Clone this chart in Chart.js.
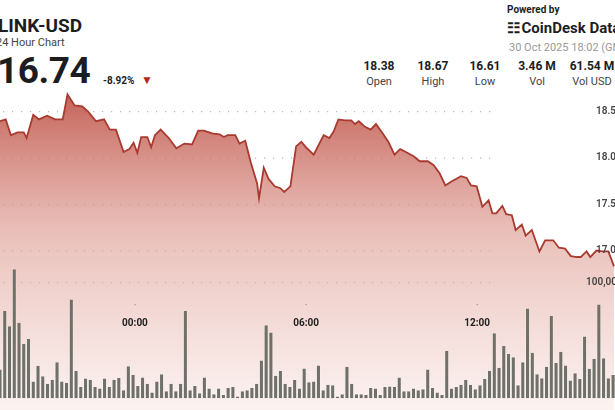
<!DOCTYPE html>
<html>
<head>
<meta charset="utf-8">
<script src="https://cdn.jsdelivr.net/npm/chart.js@4/dist/chart.umd.min.js"></script>
<style>
  body { margin: 0; width: 615px; height: 410px; overflow: hidden; background: #fff; font-family: Roboto, "Noto Sans", sans-serif; position: relative; color: #1d1d1f; }
  .abs { position: absolute; white-space: nowrap; }
  #wrap { position: absolute; left: 0; top: 90px; width: 615px; height: 320px; }
  .st { position: absolute; top: 59px; text-align: center; width: 50px; }
  .st b { display: block; font-size: 12px; font-weight: 700; }
  .st span { display: block; font-size: 11px; color: #444; margin-top: 2px; }
</style>
</head>
<body>
<div class="abs" style="left:-2px;top:14px;font-size:19px;font-weight:700;">LINK-USD</div>
<div class="abs" style="left:-4px;top:36px;font-size:11px;color:#444;">24 Hour Chart</div>
<div class="abs" style="left:-3px;top:49px;font-size:37px;font-weight:700;letter-spacing:-0.5px;">16.74</div>
<div class="abs" style="left:103px;top:73px;font-size:10px;font-weight:700;">-8.92% <span style="color:#b02a1e;font-size:12px;margin-left:4px;">&#9660;</span></div>
<div class="abs" style="left:507px;top:4px;font-size:10px;font-weight:700;">Powered by</div>
<div class="abs" style="left:507px;top:19px;font-size:15px;font-weight:700;">&#9783;&#8202;CoinDesk Data</div>
<div class="abs" style="left:509px;top:41px;font-size:11px;color:#999;">30 Oct 2025 18:02 (GMT)</div>
<div class="st" style="left:354px"><b>18.38</b><span>Open</span></div>
<div class="st" style="left:408px"><b>18.67</b><span>High</span></div>
<div class="st" style="left:460px"><b>16.61</b><span>Low</span></div>
<div class="st" style="left:512px"><b>3.46 M</b><span>Vol</span></div>
<div class="st" style="left:567px"><b>61.54 M</b><span>Vol USD</span></div>
<div id="wrap"><canvas id="c"></canvas></div>
<script>
// minutes relative to 00:00 (GMT) and close price
const priceTimes = [-284,-272,-261,-247,-234,-228,-214,-202,-185,-168,-152,-142,-127,-111,-98,-82,-65,-53,-40,-24,-12,-3,5,13,26,34,42,54,71,87,104,120,133,145,162,178,187,195,211,220,232,244,257,261,271,281,294,306,314,327,339,350,360,376,397,409,418,428,442,455,463,471,484,496,507,521,533,546,558,570,587,599,616,628,641,653,665,686,698,707,719,731,744,752,760,773,781,793,801,814,822,835,851,863,880,892,905,917,930,938,950,958,971,983,996,1008];
const prices = [18.39,18.41,18.24,18.27,18.27,18.21,18.46,18.41,18.45,18.41,18.41,18.68,18.56,18.55,18.49,18.39,18.41,18.30,18.30,18.06,18.09,18.16,18.05,18.22,18.22,18.11,18.24,18.30,18.21,18.10,18.15,18.14,18.29,18.29,18.26,18.25,18.22,18.24,18.24,18.15,18.18,17.94,17.72,17.56,17.89,17.77,17.69,17.67,17.63,17.69,18.12,18.17,18.11,18.03,18.24,18.21,18.28,18.41,18.40,18.40,18.36,18.39,18.33,18.30,18.36,18.26,18.17,18.03,18.09,18.06,18.01,17.96,17.96,17.92,17.83,17.70,17.74,17.80,17.78,17.70,17.69,17.47,17.54,17.40,17.40,17.48,17.39,17.38,17.22,17.28,17.16,17.22,16.99,17.11,17.11,17.03,17.02,16.94,16.93,16.93,16.99,16.93,17.00,16.99,16.99,16.83];
// 10-minute volume bars (thousands), first bar at -284
const volStart = -284, volStep = 10;
const volumes = [24.9,75,62,111,65,47,51,14.5,28,19,12.5,16,31,14.5,13.5,85,23.5,9.8,17,16,9.8,8.4,17,9.8,16,17.5,7,27.6,20,10.6,18,12.5,5.1,14.5,20.8,6.2,12.5,6.2,12.5,75,7,10.6,4.3,18,8.4,3.5,8.4,2.9,9,9.8,1.5,6.2,7,9,12.5,32.6,62.9,56.5,19.4,23.5,12.5,9.8,15.8,8.4,25.7,13.9,14.5,28.2,7,11.7,11.2,1.5,3.5,27.1,12.5,3.5,3.5,2.9,9,8.4,2.9,9.8,10.3,9.8,18,6.2,6.2,8.4,7,7.8,24.9,9,5.1,2.9,40.9,8.4,9.8,11.7,16,11.7,7.8,11.2,16.7,23.5,56,26.3,45,38.1,35.3,11.2,31,77.2,39.2,20.8,17.2,27.1,70.8,30.4,40,28.2,15.3,21.6,16.7,53.2,25.5,34,80.7,34.5,17.2,20,11.2,8.4,40.9];
const priceTicks = [18.5, 18.0, 17.5, 17.0];
const volTicks = [100];
const timeTicks = [0, 360, 720];
const timeLabels = ['00:00', '06:00', '12:00'];

const pricePts = priceTimes.map((t, i) => ({ x: t, y: prices[i] }));
const volPts = volumes.map((v, i) => ({ x: volStart + i * volStep, y: v }));

const overlay = {
  id: 'overlay',
  beforeDatasetsDraw(chart) {
    const { ctx, scales } = chart;
    ctx.save();
    ctx.fillStyle = '#b8b8b8';
    const dots = (y) => { for (let x = 3; x < 496; x += 9) ctx.fillRect(x, y, 1.2, 1.2); };
    priceTicks.forEach((v) => dots(scales.y.getPixelForValue(v)));
    volTicks.forEach((v) => dots(scales.v.getPixelForValue(v)));
    ctx.restore();
  },
  afterDatasetsDraw(chart) {
    const { ctx, scales } = chart;
    ctx.save();
    ctx.font = '600 10px Roboto, sans-serif';
    ctx.fillStyle = '#444';
    ctx.textBaseline = 'middle';
    priceTicks.forEach((v) => ctx.fillText(v.toFixed(1), 596, scales.y.getPixelForValue(v)));
    volTicks.forEach((v) => ctx.fillText('100,000', 586, scales.v.getPixelForValue(v)));
    ctx.font = '700 10px Roboto, sans-serif';
    ctx.textAlign = 'center';
    timeTicks.forEach((t, i) => {
      const x = scales.x.getPixelForValue(t);
      ctx.fillStyle = '#999';
      ctx.fillRect(x - 0.5, 214, 1.2, 1.2);
      ctx.fillStyle = '#222';
      ctx.fillText(timeLabels[i], x, 233);
    });
    ctx.restore();
  }
};

new Chart(document.getElementById('c'), {
  data: {
    datasets: [
      {
        type: 'line', data: pricePts, yAxisID: 'y', order: 2,
        borderColor: '#a93a2f', borderWidth: 1.8, pointRadius: 0, tension: 0,
        fill: 'start',
        backgroundColor: (c) => {
          const a = c.chart.chartArea;
          if (!a) return 'rgba(200,100,90,0.5)';
          const g = c.chart.ctx.createLinearGradient(0, a.top, 0, a.bottom);
          g.addColorStop(0, 'rgba(188,78,66,0.9)');
          g.addColorStop(0.45, 'rgba(220,150,140,0.6)');
          g.addColorStop(1, 'rgba(248,230,226,0.5)');
          return g;
        },
      },
      {
        type: 'bar', data: volPts, yAxisID: 'v', order: 1,
        backgroundColor: '#6f7168', borderColor: 'rgba(255,255,255,0.6)', borderWidth: { left: 0.6, right: 0.6 },
        barPercentage: 0.9, categoryPercentage: 1,
      },
    ],
  },
  options: {
    responsive: true, maintainAspectRatio: false, animation: false,
    layout: { padding: 0 },
    plugins: { legend: { display: false }, tooltip: { enabled: false } },
    scales: {
      x: { type: 'linear', min: -284, max: 1010, offset: false, display: false },
      y: { min: 15.285, max: 18.726, display: false },
      v: { min: -10, max: 265, display: false },
    },
  },
  plugins: [overlay],
});
</script>
</body>
</html>
